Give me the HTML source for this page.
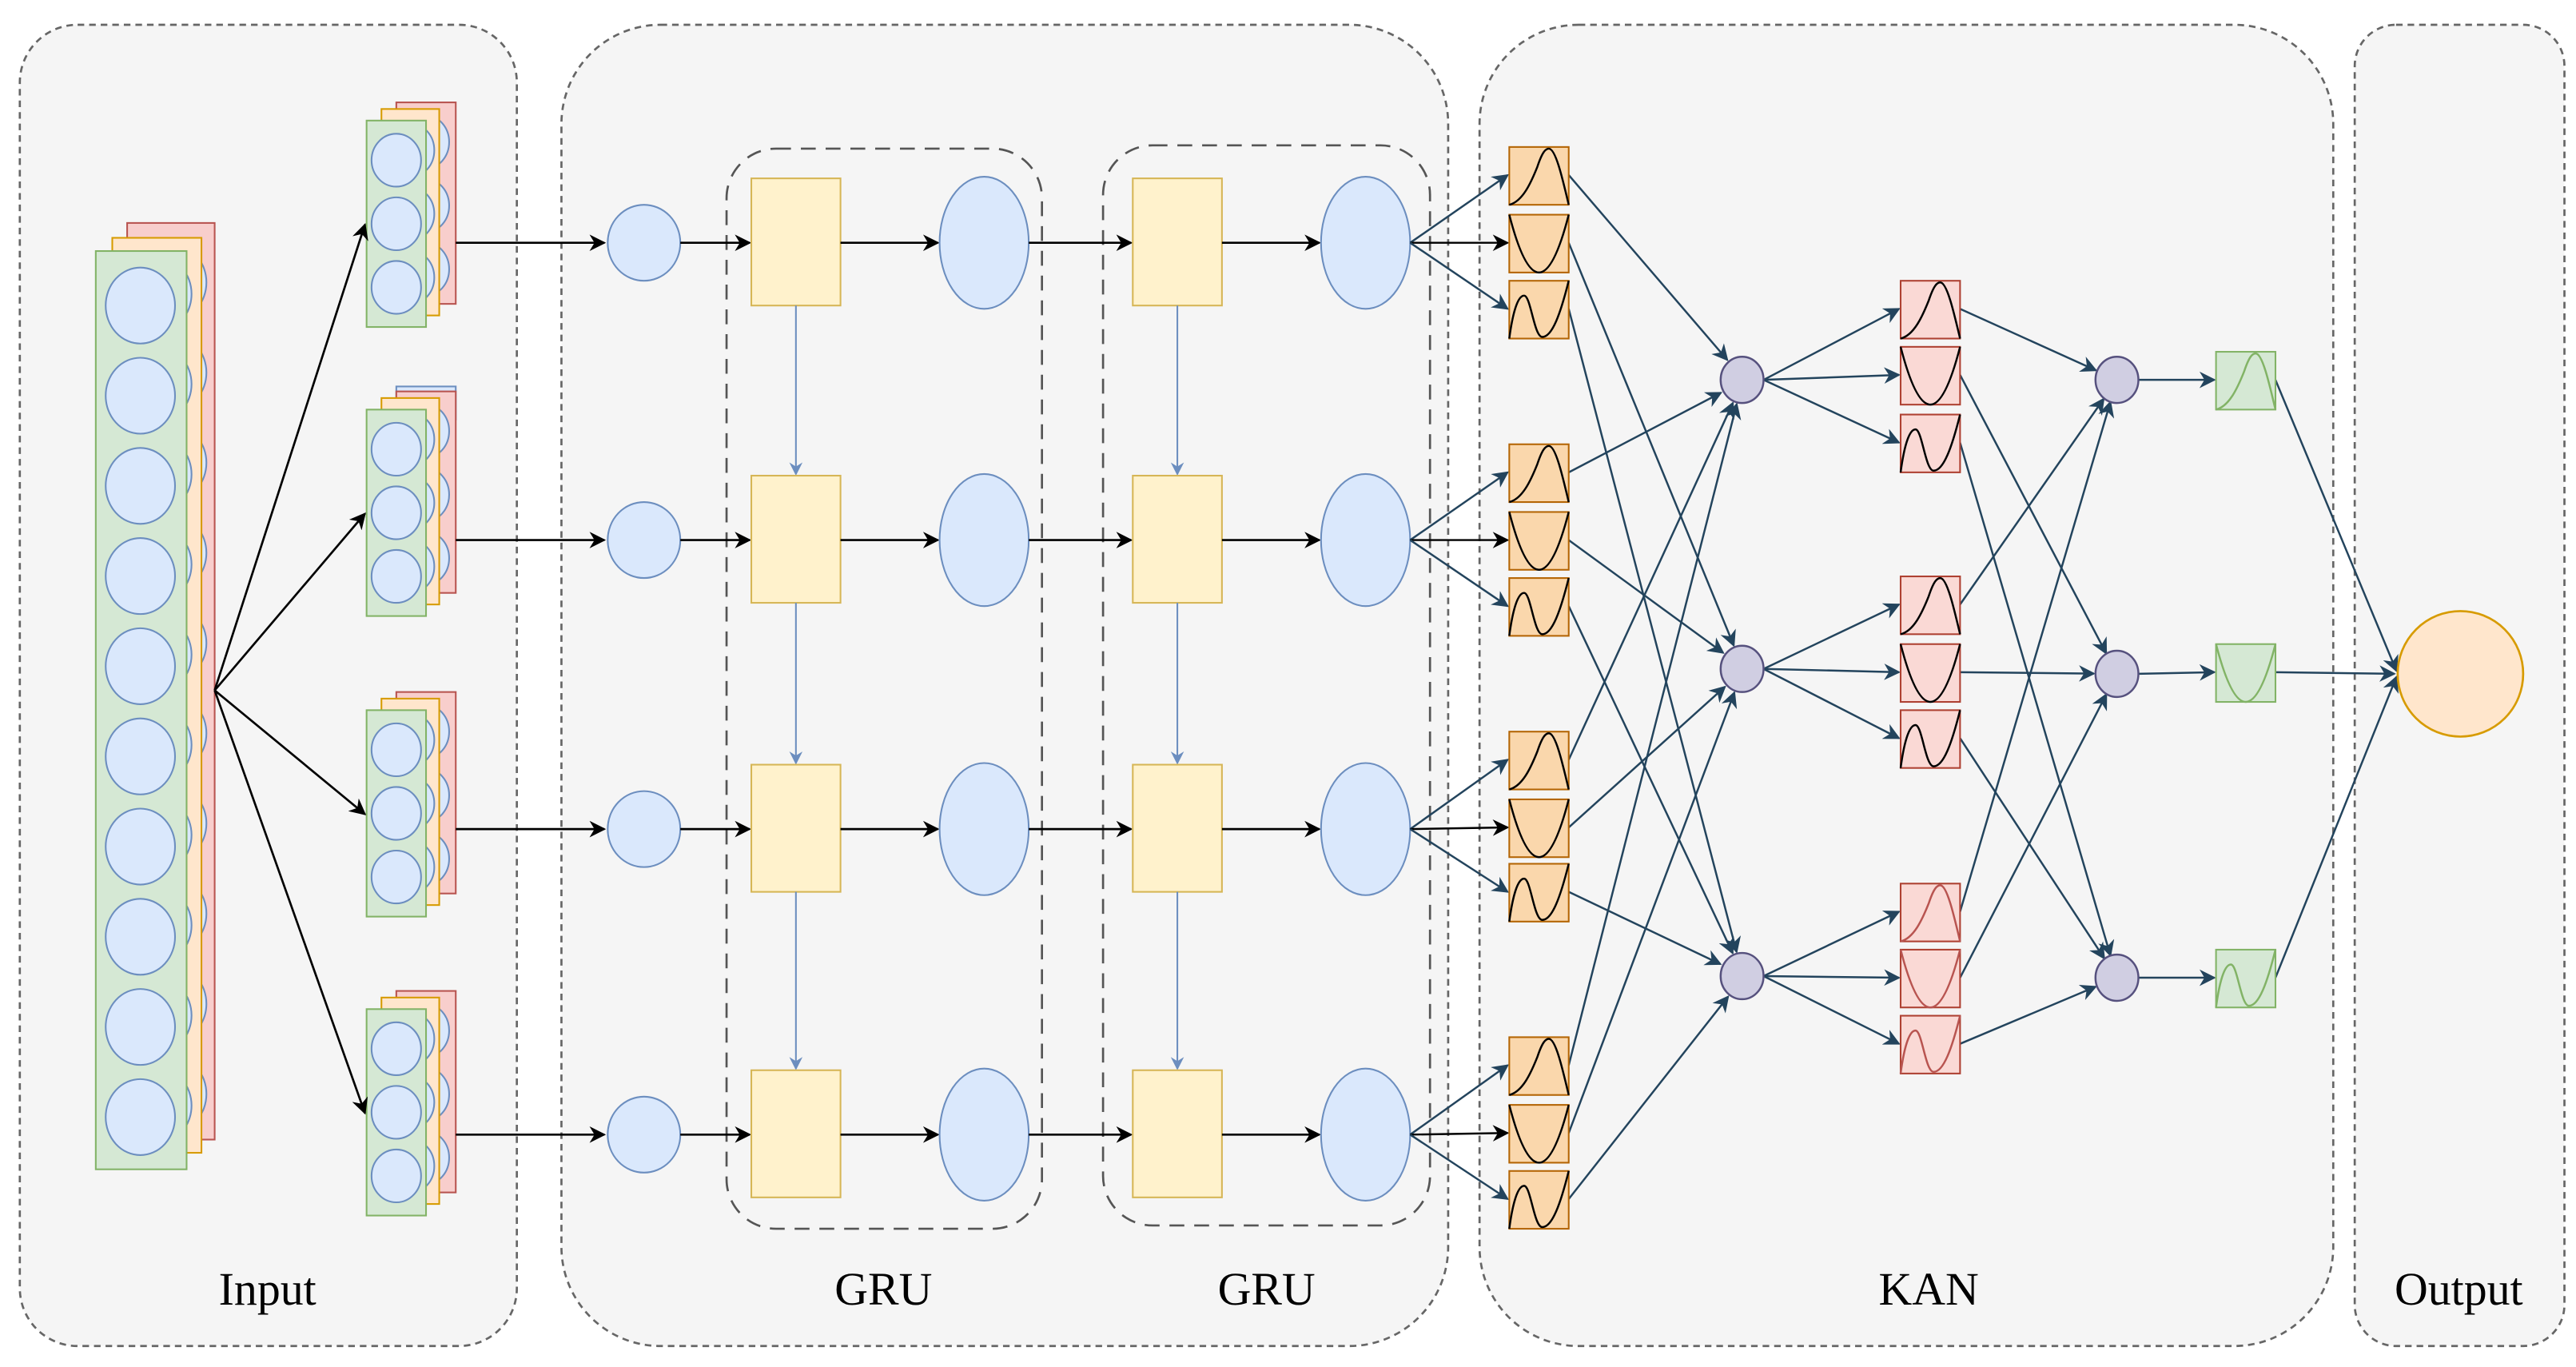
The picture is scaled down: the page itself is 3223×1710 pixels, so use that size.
<!DOCTYPE html>
<html><head><meta charset="utf-8"><style>html,body{margin:0;padding:0;background:#fff}svg{display:block}</style></head>
<body>
<svg id="s" width="3223" height="1710" viewBox="0 0 1560 827.7" preserveAspectRatio="none" xmlns="http://www.w3.org/2000/svg">
<defs>
<marker id="mk" markerWidth="10" markerHeight="10" refX="9" refY="5" orient="auto" markerUnits="userSpaceOnUse"><path d="M0,0 L10,5 L0,10 L3,5 z" fill="#000"/></marker>
<marker id="mb" markerWidth="10" markerHeight="10" refX="9" refY="5" orient="auto" markerUnits="userSpaceOnUse"><path d="M0,0 L10,5 L0,10 L3,5 z" fill="#23445d"/></marker>
<marker id="ml" markerWidth="8" markerHeight="8" refX="7" refY="4" orient="auto" markerUnits="userSpaceOnUse"><path d="M0,0 L8,4 L0,8 L2.5,4 z" fill="#6c8ebf"/></marker>
</defs>
<g fill="#f5f5f5" stroke="#666" stroke-width="1.3" stroke-dasharray="4,3">
<rect x="12" y="15" width="301" height="800" rx="35"/>
<rect x="340" y="15" width="537" height="800" rx="60"/>
<rect x="896" y="15" width="517" height="800" rx="60"/>
<rect x="1426" y="15" width="127" height="800" rx="25"/>
</g>
<g fill="none" stroke="#555" stroke-width="1.3" stroke-dasharray="9,6">
<rect x="440" y="90" width="191" height="654" rx="30"/>
<rect x="668" y="88" width="198" height="654" rx="30"/>
</g>
<g font-family="Liberation Serif, serif" font-size="28" text-anchor="middle" fill="#000">
<text x="162" y="790">Input</text>
<text x="535" y="790">GRU</text>
<text x="767" y="790">GRU</text>
<text x="1168" y="790">KAN</text>
<text x="1489" y="790">Output</text>
</g>
<g id="dyn"></g>
</svg>
<script>
var g=document.getElementById('dyn'),h='';
function R(x,y,w,hh,f,s){h+='<rect x="'+x+'" y="'+y+'" width="'+w+'" height="'+hh+'" fill="'+f+'" stroke="'+s+'" stroke-width="1"/>';}
function E(cx,cy,rx,ry,f,s,sw){h+='<ellipse cx="'+cx+'" cy="'+cy+'" rx="'+rx+'" ry="'+ry+'" fill="'+f+'" stroke="'+s+'" stroke-width="'+(sw||1)+'"/>';}
function L(x1,y1,x2,y2,c,m,w){h+='<line x1="'+x1+'" y1="'+y1+'" x2="'+x2+'" y2="'+y2+'" stroke="'+c+'" stroke-width="'+(w||1.2)+'" marker-end="url(#'+m+')"/>';}
var B='#dae8fc',BS='#6c8ebf';
// big input stack
R(77,135,53,555,'#f8cecc','#b85450');
for(var i=0;i<10;i++)E(104,185+i*54.6-14,21,23,B,BS);
R(68,144,54,554,'#ffe6cc','#d79b00');
for(var i=0;i<10;i++)E(95,185+i*54.6-7,21,23,B,BS);
R(58,152,55,556,'#d5e8d4','#82b366');
for(var i=0;i<10;i++)E(85,185+i*54.6,21,23,B,BS);
// small stacks
var sy=[73,248,430,611];
sy.forEach(function(t,k){
 if(k==1)R(240,t-14,36,20,B,BS);
 R(240,t-11,36,122,'#f8cecc','#b85450');
 for(var j=0;j<3;j++)E(258,t+24+j*38.5-11,14,16,B,BS);
 R(231,t-7,35,125,'#ffe6cc','#d79b00');
 for(var j=0;j<3;j++)E(249,t+24+j*38.5-6,14,16,B,BS);
 R(222,t,36,125,'#d5e8d4','#82b366');
 for(var j=0;j<3;j++)E(240,t+24+j*38.5,15,16,B,BS);
 L(130,418,221,t+63,'#000','mk',1.3);
});
var ry=[147,327,502,687];
ry.forEach(function(y,k){
 L(276,y,366,y,'#000','mk',1.3);
 E(390,y,22,23,B,BS);
 L(412,y,454,y,'#000','mk',1.3);
 R(455,y-39,54,77,'#fff2cc','#d6b656');
 L(509,y,568,y,'#000','mk',1.3);
 E(596,y,27,40,B,BS);
 L(623,y,685,y,'#000','mk',1.3);
 R(686,y-39,54,77,'#fff2cc','#d6b656');
 L(740,y,799,y,'#000','mk',1.3);
 E(827,y,27,40,B,BS);
 if(k<3){L(482,y+38,482,ry[k+1]-40,'#6c8ebf','ml',1);L(713,y+38,713,ry[k+1]-40,'#6c8ebf','ml',1);}
});
// KAN
var S1='M0,35 C8,33 13,22 17,12 C20,3 22,1 24,1 C28,1 32,18 36,35';
var S2='M0,0 Q18,70 36,0';
var S3='M0,35 C2,20 5,9 9,9 C13,9 15,34 20,34 C26,34 31,20 36,0';
var SH=[S1,S2,S3];
function F(x,y,f,s,c,k){R(x,y,36,35,f,s);h+='<path transform="translate('+x+','+y+')" d="'+SH[k]+'" fill="none" stroke="'+c+'" stroke-width="1.2"/>';}
var og=[[89,130,170],[269,310,350],[443,484,523],[628,669,709]];
var n1=[230,405,591],n2=[230,408,592];
og.forEach(function(ys,gi){
 ys.forEach(function(y,j){
  L(854,ry[gi],913,y+17,j==1?'#000':'#23445d',j==1?'mk':'mb',1.2);
 });
});
og.forEach(function(ys){ys.forEach(function(y,j){
  var dx=1042,dy=n1[j],ang=Math.atan2(dy-(y+17),dx-950);
  L(950,y+17,1055-15*Math.cos(ang),n1[j]-15*Math.sin(ang),'#23445d','mb',1.2);
});});
var pg=[[170,210,251],[349,390,430],[535,575,615]];
pg.forEach(function(ys,gi){ys.forEach(function(y,j){
 L(1068,n1[gi],1150,y+17,'#23445d','mb',1.2);
 var ang=Math.atan2(n2[j]-(y+17),1282-1187);
 L(1187,y+17,1282-14*Math.cos(ang),n2[j]-14*Math.sin(ang),'#23445d','mb',1.2);
});});
og.forEach(function(ys){ys.forEach(function(y,j){F(914,y,'#fad7ac','#b46504','#000',j);});});
pg.forEach(function(ys,gi){ys.forEach(function(y,j){F(1151,y,'#fad9d5','#ae4132',gi==2?'#b85450':'#000',j);});});
n1.forEach(function(y){E(1055,y,13,14,'#d0cee2','#56517e',1.2);});
var gy=[213,390,575];
n2.forEach(function(y,j){
 L(1295,y,1341,gy[j]+17,'#23445d','mb',1.2);
 var ang=Math.atan2(408-(gy[j]+17),1452-1378);
 L(1378,gy[j]+17,1452-2*Math.cos(ang),408-2*Math.sin(ang),'#23445d','mb',1.2);
});
n2.forEach(function(y){E(1282,y,13,14,'#d0cee2','#56517e',1.2);});
gy.forEach(function(y,j){R(1342,y,36,35,'#d5e8d4','#82b366');h+='<path transform="translate(1342,'+y+')" d="'+SH[j]+'" fill="none" stroke="#82b366" stroke-width="1.2"/>';});
E(1490,408,38,38,'#ffe6cc','#d79b00',1.3);
g.innerHTML=h;
</script>
</body></html>
